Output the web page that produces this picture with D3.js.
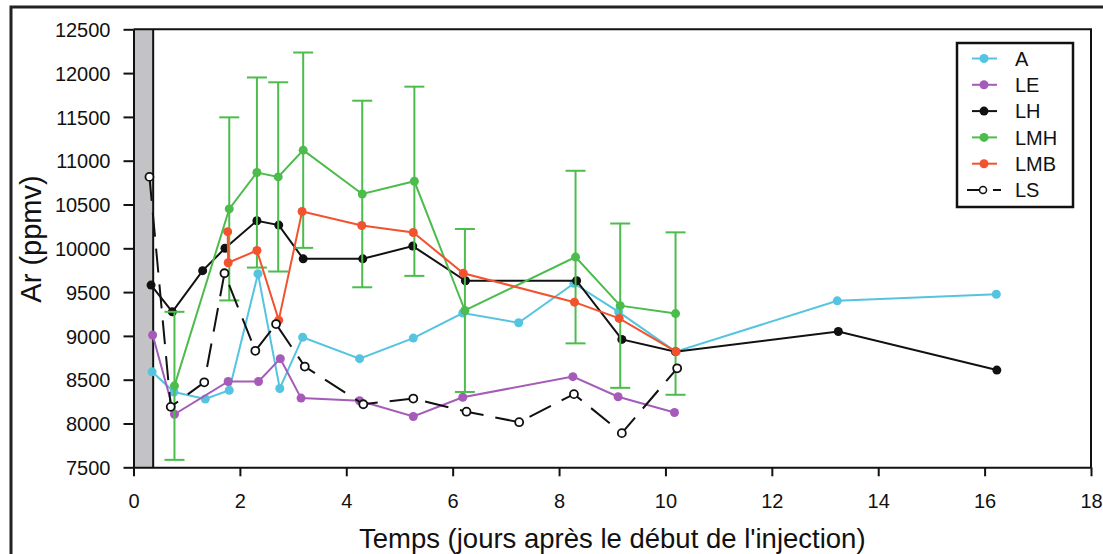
<!DOCTYPE html>
<html>
<head>
<meta charset="utf-8">
<script src="https://cdn.jsdelivr.net/npm/d3@7"></script>
<style>
  body { margin: 0; background: #fff; }
  svg { display: block; font-family: "Liberation Sans", Arial, sans-serif; }
</style>
</head>
<body>
<svg id="chart" width="1103" height="554"></svg>
<script>
// axis setup
var xTicks = [0, 2, 4, 6, 8, 10, 12, 14, 16, 18];
var yTicks = [7500, 8000, 8500, 9000, 9500, 10000, 10500, 11000, 11500, 12000, 12500];
var injectionEnd = 0.37;

// series A
var aDays = [0.35, 0.76, 1.35, 1.80, 2.34, 2.75, 3.18, 4.25, 5.26, 6.19, 7.24, 8.28, 9.12, 10.19, 13.23, 16.22];
var aVals = [8590, 8360, 8280, 8380, 9710, 8400, 8985, 8740, 8975, 9260, 9150, 9600, 9275, 8820, 9400, 9475];

// series LE
var leDays = [0.36, 0.77, 1.78, 2.35, 2.76, 3.15, 4.25, 5.26, 6.19, 8.26, 9.11, 10.17];
var leVals = [9010, 8105, 8480, 8480, 8740, 8290, 8260, 8080, 8300, 8535, 8305, 8125];

// series LH
var lhDays = [0.33, 0.73, 1.30, 1.72, 2.32, 2.73, 3.19, 4.31, 5.25, 6.24, 8.33, 9.18, 10.19, 13.25, 16.23];
var lhVals = [9580, 9275, 9745, 10000, 10315, 10265, 9880, 9880, 10025, 9630, 9630, 8960, 8820, 9050, 8610];

// series LMH (with std dev)
var lmhDays = [0.77, 1.80, 2.32, 2.72, 3.19, 4.30, 5.28, 6.23, 8.31, 9.15, 10.19];
var lmhVals = [8430, 10450, 10865, 10815, 11120, 10620, 10765, 9290, 9900, 9345, 9255];
var lmhErr = [845, 1045, 1085, 1080, 1115, 1065, 1080, 930, 985, 938, 927];

// series LMB
var lmbDays = [1.77, 1.78, 2.32, 2.73, 3.17, 4.29, 5.26, 6.20, 8.29, 9.13, 10.20];
var lmbVals = [10190, 9835, 9975, 9180, 10420, 10260, 10180, 9715, 9385, 9200, 8820];

// series LS
var lsDays = [0.30, 0.70, 1.33, 1.71, 2.29, 2.68, 3.22, 4.32, 5.26, 6.26, 7.25, 8.28, 9.18, 10.22];
var lsVals = [10815, 8190, 8470, 9715, 8830, 9135, 8650, 8220, 8285, 8135, 8015, 8335, 7890, 8630];

var seriesNames = ["A", "LE", "LH", "LMH", "LMB", "LS"];
var seriesColors = ["#55c4e0", "#a55cb8", "#111111", "#4cbc4c", "#f2522e", "#111111"];

function zip(days, vals) {
    return days.map(function (d, i) { return { x: d, y: vals[i] }; });
}

function drawChart() {
    var series = [
        { name: "A", pts: zip(aDays, aVals) },
        { name: "LE", pts: zip(leDays, leVals) },
        { name: "LH", pts: zip(lhDays, lhVals) },
        { name: "LMH", pts: zip(lmhDays, lmhVals), err: lmhErr },
        { name: "LMB", pts: zip(lmbDays, lmbVals) },
        { name: "LS", pts: zip(lsDays, lsVals), open: true }
    ];

    var svg = d3.select("#chart");
    var plotLeft = 133.5, plotRight = 1091, plotTop = 29.3, plotBottom = 467.3;

    var x = d3.scaleLinear().domain([0, 18]).range([plotLeft, plotRight]);
    var y = d3.scaleLinear().domain([7500, 12500]).range([plotBottom, plotTop]);

    var color = d3.scaleOrdinal().domain(seriesNames).range(seriesColors);

    // outer frame (runs off the page on the right and bottom)
    svg.append("path")
        .attr("d", "M11,560 L11,7 L1110,7")
        .attr("fill", "none")
        .attr("stroke", "#222")
        .attr("stroke-width", 3);

    // injection band
    svg.append("rect")
        .attr("x", x(0))
        .attr("y", plotTop)
        .attr("width", x(injectionEnd) - x(0))
        .attr("height", plotBottom - plotTop)
        .attr("fill", "#c3c3c5");

    svg.append("line")
        .attr("x1", x(injectionEnd)).attr("x2", x(injectionEnd))
        .attr("y1", plotTop).attr("y2", plotBottom)
        .attr("stroke", "#111")
        .attr("stroke-width", 2);

    // top and right frame
    svg.append("path")
        .attr("d", "M" + x(0) + "," + plotTop + "H" + plotRight + "V" + plotBottom)
        .attr("fill", "none")
        .attr("stroke", "#111")
        .attr("stroke-width", 2);

    // axes
    var xAxis = svg.append("g")
        .attr("transform", "translate(0," + plotBottom + ")")
        .call(d3.axisBottom(x).tickValues(xTicks).tickSize(9).tickPadding(18).tickSizeOuter(0));

    var yAxis = svg.append("g")
        .attr("transform", "translate(" + plotLeft + ",0)")
        .call(d3.axisLeft(y).tickValues(yTicks).tickFormat(d3.format("d"))
            .tickSize(10).tickPadding(13).tickSizeOuter(0));

    [xAxis, yAxis].forEach(function (g) {
        g.attr("font-size", 20).attr("font-family", "'Liberation Sans', Arial, sans-serif");
        g.select(".domain").attr("stroke", "#111").attr("stroke-width", 2);
        g.selectAll(".tick line").attr("stroke", "#111").attr("stroke-width", 2);
        g.selectAll(".tick text").attr("fill", "#111");
    });
    yAxis.selectAll(".tick text").attr("dy", "0.36em");

    // axis titles
    svg.append("text")
        .attr("x", (plotLeft + plotRight) / 2)
        .attr("y", 548)
        .attr("text-anchor", "middle")
        .attr("fill", "#111")
        .style("font-size", "27.5px")
        .text("Temps (jours après le début de l'injection)");

    svg.append("text")
        .attr("transform", "translate(41,239) rotate(-90)")
        .attr("text-anchor", "middle")
        .attr("fill", "#111")
        .style("font-size", "29px")
        .text("Ar (ppmv)");

    var line = d3.line()
        .x(function (d) { return x(d.x); })
        .y(function (d) { return y(d.y); });

    series.forEach(function (s) {
        var c = color(s.name);
        var g = svg.append("g").attr("class", "series-" + s.name);

        if (s.err) {
            var eb = g.selectAll(".err")
                .data(s.pts)
                .enter().append("g")
                .attr("class", "err")
                .attr("stroke", c)
                .attr("stroke-width", 2);
            eb.append("line")
                .attr("x1", function (d) { return x(d.x); })
                .attr("x2", function (d) { return x(d.x); })
                .attr("y1", function (d, i) { return y(d.y + s.err[i]); })
                .attr("y2", function (d, i) { return y(d.y - s.err[i]); });
            [1, -1].forEach(function (sign) {
                eb.append("line")
                    .attr("x1", function (d) { return x(d.x) - 10; })
                    .attr("x2", function (d) { return x(d.x) + 10; })
                    .attr("y1", function (d, i) { return y(d.y + sign * s.err[i]); })
                    .attr("y2", function (d, i) { return y(d.y + sign * s.err[i]); });
            });
        }

        g.append("path")
            .datum(s.pts)
            .attr("d", line)
            .attr("fill", "none")
            .attr("stroke", c)
            .attr("stroke-width", 2)
            .attr("stroke-dasharray", s.open ? "24,12" : null);

        g.selectAll("circle")
            .data(s.pts)
            .enter().append("circle")
            .attr("cx", function (d) { return x(d.x); })
            .attr("cy", function (d) { return y(d.y); })
            .attr("r", s.open ? 4 : 4.5)
            .attr("fill", s.open ? "#fff" : c)
            .attr("stroke", s.open ? c : "none")
            .attr("stroke-width", 1.8);
    });

    // legend
    var legend = svg.append("g").attr("transform", "translate(957,43)");
    legend.append("rect")
        .attr("width", 116)
        .attr("height", 164)
        .attr("fill", "#fff")
        .attr("stroke", "#111")
        .attr("stroke-width", 2.5);

    var item = legend.selectAll(".item")
        .data(series)
        .enter().append("g")
        .attr("class", "item")
        .attr("transform", function (d, i) { return "translate(0," + (15.5 + i * 26.3) + ")"; });

    item.append("line")
        .attr("x1", function (d) { return d.open ? 10 : 15; })
        .attr("x2", function (d) { return d.open ? 44 : 40; })
        .attr("stroke", function (d) { return color(d.name); })
        .attr("stroke-width", 2)
        .attr("stroke-dasharray", function (d) { return d.open ? "15,11,8" : null; });

    item.append("circle")
        .attr("cx", function (d) { return d.open ? 26 : 27; })
        .attr("r", function (d) { return d.open ? 3.5 : 4.5; })
        .attr("fill", function (d) { return d.open ? "#fff" : color(d.name); })
        .attr("stroke", function (d) { return d.open ? color(d.name) : "none"; })
        .attr("stroke-width", 1.5);

    item.append("text")
        .attr("x", 58)
        .attr("dy", "0.36em")
        .attr("fill", "#111")
        .style("font-size", "20px")
        .text(function (d) { return d.name; });
}

drawChart();
</script>
</body>
</html>
